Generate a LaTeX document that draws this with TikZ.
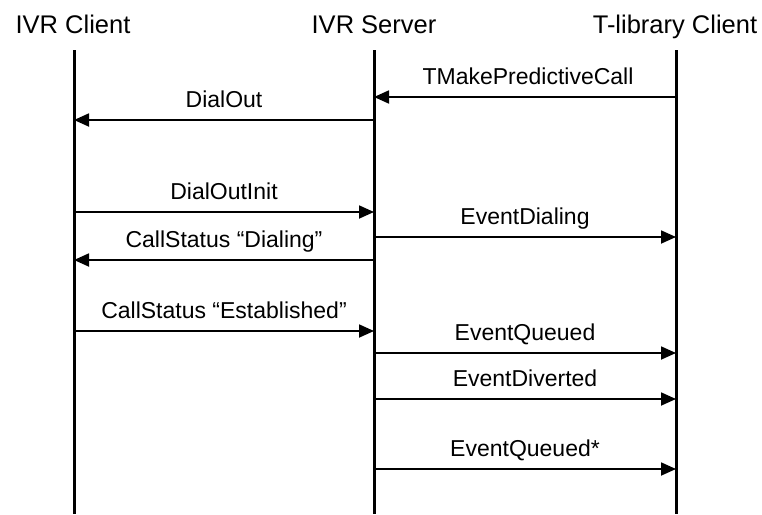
\documentclass[tikz,border=0pt]{standalone}
\usepackage{fontspec}
\setmainfont{Liberation Sans}
\usetikzlibrary{arrows.meta}

\begin{document}
\begin{tikzpicture}[x=1pt,y=-1pt,
  head/.style={font=\fontsize{25.5}{25.5}\selectfont, anchor=base},
  life/.style={line width=3pt},
  msg/.style={line width=1.8pt, -{Triangle[length=15pt,width=13pt]}},
  lbl/.style={font=\fontsize{23}{23}\selectfont, anchor=base, yshift=13pt}]
\useasboundingbox (0,0) rectangle (762,514);

% headers
\node[head] (ivrc) at (73,33) {IVR Client};
\node[head] (ivrs) at (374,33) {IVR Server};
\node[head] (tlib) at (675,33) {T-library Client};

% lifelines
\coordinate (ivrct) at (74,50);
\coordinate (ivrcb) at (74,514);
\coordinate (ivrst) at (374,50);
\coordinate (ivrsb) at (374,514);
\coordinate (tlibt) at (676,50);
\coordinate (tlibb) at (676,514);
\draw[life] (ivrct) -- (ivrcb);
\draw[life] (ivrst) -- (ivrsb);
\draw[life] (tlibt) -- (tlibb);

% messages
\coordinate (s1) at (374,97);
\coordinate (t1) at (676,97);
\draw[msg] (t1) -- node[lbl, xshift=3pt] {TMakePredictiveCall} (s1);

\coordinate (c2) at (74,120);
\coordinate (s2) at (374,120);
\draw[msg] (s2) -- node[lbl] {DialOut} (c2);

\coordinate (c3) at (74,212);
\coordinate (s3) at (374,212);
\draw[msg] (c3) -- node[lbl] {DialOutInit} (s3);

\coordinate (s4) at (374,237);
\coordinate (t4) at (676,237);
\draw[msg] (s4) -- node[lbl] {EventDialing} (t4);

\coordinate (c5) at (74,260);
\coordinate (s5) at (374,260);
\draw[msg] (s5) -- node[lbl] {CallStatus “Dialing”} (c5);

\coordinate (c6) at (74,331);
\coordinate (s6) at (374,331);
\draw[msg] (c6) -- node[lbl] {CallStatus “Established”} (s6);

\coordinate (s7) at (374,353);
\coordinate (t7) at (676,353);
\draw[msg] (s7) -- node[lbl] {EventQueued} (t7);

\coordinate (s8) at (374,399);
\coordinate (t8) at (676,399);
\draw[msg] (s8) -- node[lbl] {EventDiverted} (t8);

\coordinate (s9) at (374,469);
\coordinate (t9) at (676,469);
\draw[msg] (s9) -- node[lbl] {EventQueued*} (t9);
\end{tikzpicture}
\end{document}
